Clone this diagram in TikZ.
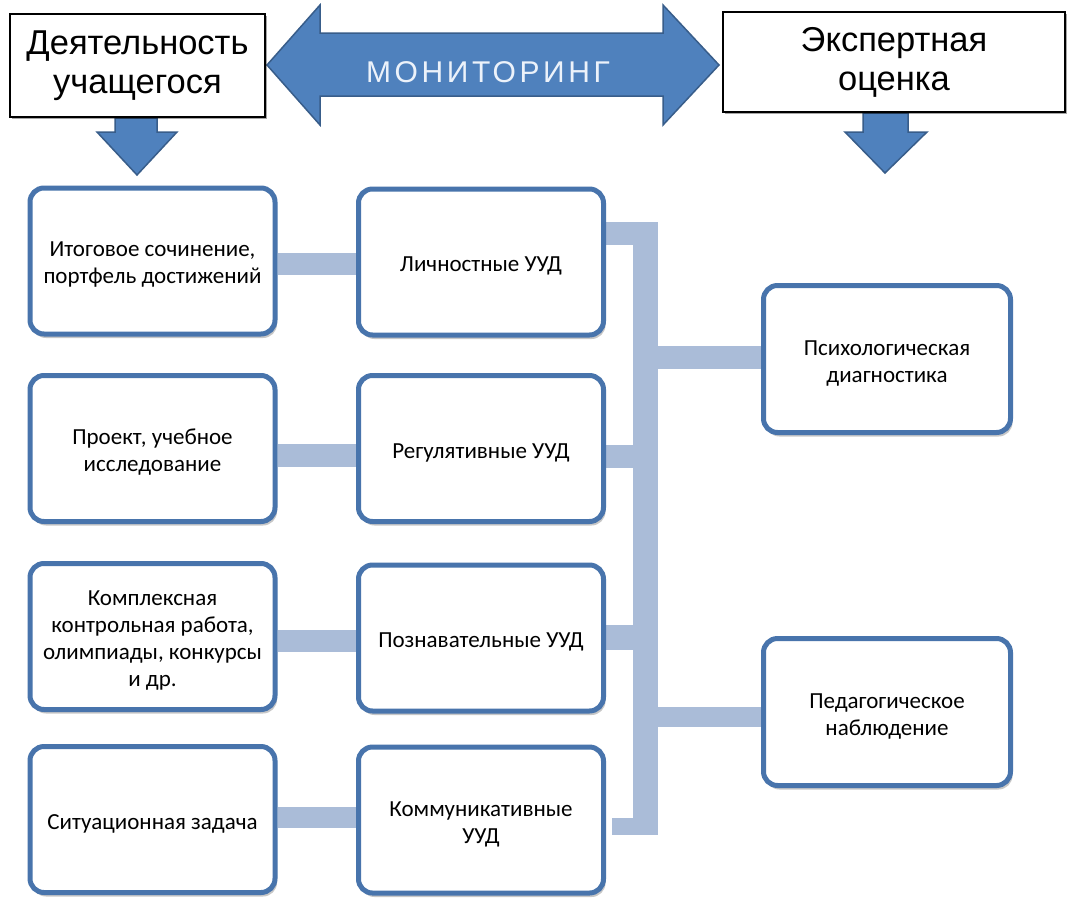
\documentclass[tikz,border=0pt]{standalone}
\usepackage{fontspec}
\setmainfont{Carlito}
\newfontfamily\arialf{Liberation Sans}
\newfontfamily\monf[LetterSpace=12]{Liberation Sans}
\usetikzlibrary{shadows}
\pgfdeclarelayer{back0}
\pgfdeclarelayer{background}
\pgfsetlayers{back0,background,main}
\definecolor{boxblue}{RGB}{72,116,172}
\definecolor{arrowblue}{RGB}{79,129,189}
\definecolor{arrowedge}{RGB}{56,93,138}
\definecolor{connblue}{RGB}{170,188,216}
\definecolor{montext}{RGB}{236,242,250}
\begin{document}
\begin{tikzpicture}[x=1pt,y=-1pt,
  ubox/.style={draw=boxblue, line width=5pt, rounded corners=14pt, fill=white,
    inner sep=0pt, minimum width=245pt, minimum height=146pt,
    drop shadow={shadow xshift=2pt, shadow yshift=-4pt, opacity=0.22, fill=black},
    label={[utext]center:#1}},
  utext/.style={align=center, inner sep=0pt, yshift=-4pt,
    font=\fontsize{23}{27}\selectfont},
  topbox/.style={draw=black, line width=2pt, fill=white, inner sep=0pt, align=center,
    font=\arialf\fontsize{34.5}{39}\selectfont,
    drop shadow={shadow xshift=2pt, shadow yshift=-2pt, opacity=0.35, fill=black}},
  blockarrow/.style={fill=arrowblue, draw=arrowedge, line width=1.5pt, line join=miter},
  conn/.style={draw=connblue, line width=22pt},
  montxt/.style={text=montext, font=\monf\fontsize{30}{35}\selectfont, inner sep=0pt}
]
\begin{pgfonlayer}{back0}
\fill[white] (0,0) rectangle (1069,898);
\end{pgfonlayer}
\useasboundingbox (0,0) rectangle (1069,898);

% block arrows
\draw[blockarrow] (267,65) -- (320,5) -- (320,33) -- (663,33) -- (663,5) -- (719,65)
  -- (663,125) -- (663,96) -- (320,96) -- (320,125) -- cycle;
\draw[blockarrow] (115,118) -- (157,118) -- (157,132) -- (177,132) -- (137,175)
  -- (97,132) -- (115,132) -- cycle;
\draw[blockarrow] (863,113) -- (908,113) -- (908,132) -- (927,132) -- (885,173)
  -- (845,132) -- (863,132) -- cycle;
\node[montxt] (mon) at (488,72.5) {МОНИТОРИНГ};

% top boxes
\node[topbox, minimum width=255pt, minimum height=103pt] (act) at (137.5,65.5) {Деятельность\\учащегося};
\node[topbox, minimum width=342pt, minimum height=100pt] (exp) at (894,62) {Экспертная\\оценка};

% positions
\path
  (152.5,261)   coordinate (p11)
  (481,262)     coordinate (p21)
  (152.5,448.5) coordinate (p12)
  (481,448.5)   coordinate (p22)
  (152.5,636.5) coordinate (p13)
  (481,638)     coordinate (p23)
  (152.5,819.5) coordinate (p14)
  (481,820)     coordinate (p24)
  (887,359)     coordinate (pp)
  (887,712)     coordinate (pd);

% connector levels
\coordinate (r1) at (0,264);
\coordinate (r2) at (0,455);
\coordinate (r3) at (0,641);
\coordinate (r4) at (0,817.5);
% bus coordinates
\coordinate (bt) at (645.5,223);
\coordinate (bb) at (645.5,835);
\coordinate (s1) at (658,233.5);
\coordinate (s2) at (658,456.5);
\coordinate (s3) at (658,637.5);
\coordinate (s4) at (640,826.5);
\coordinate (hp) at (633,357.5);
\coordinate (hd) at (641,717);

\node[ubox={Итоговое сочинение,\\портфель достижений}] (a1) at (p11) {};
\node[ubox={Личностные УУД}] (u1) at (p21) {};
\node[ubox={Проект, учебное\\исследование}] (a2) at (p12) {};
\node[ubox={Регулятивные УУД}] (u2) at (p22) {};
\node[ubox={Комплексная\\контрольная работа,\\олимпиады, конкурсы\\и др.}] (a3) at (p13) {};
\node[ubox={Познавательные УУД}] (u3) at (p23) {};
\node[ubox={Ситуационная задача}] (a4) at (p14) {};
\node[ubox={Коммуникативные\\УУД}] (u4) at (p24) {};
\node[ubox={Психологическая\\диагностика}, minimum width=247pt, minimum height=147pt] (psy) at (pp) {};
\node[ubox={Педагогическое\\наблюдение}, minimum width=247pt, minimum height=147pt] (ped) at (pd) {};

% connectors (behind boxes)
\begin{pgfonlayer}{background}
  \draw[conn] (a1.east |- r1) -- (u1.west |- r1);
  \draw[conn, line width=23pt] (a2.east |- r2) -- (u2.west |- r2);
  \draw[conn] (a3.east |- r3) -- (u3.west |- r3);
  \draw[conn, line width=21pt] (a4.east |- r4) -- (u4.west |- r4);
  \draw[conn, line width=23pt] (u1.east |- s1) -- (s1);
  \draw[conn, line width=23pt] (u2.east |- s2) -- (s2);
  \draw[conn, line width=25pt] (u3.east |- s3) -- (s3);
  \draw[conn, line width=17pt, shorten <=6pt] (u4.east |- s4) -- (s4);
  \draw[conn, line width=25pt] (bt) -- (bb);
  \draw[conn, line width=23pt] (hp) -- (psy.west |- hp);
  \draw[conn, line width=20pt] (hd) -- (ped.west |- hd);
\end{pgfonlayer}
\end{tikzpicture}
\end{document}
